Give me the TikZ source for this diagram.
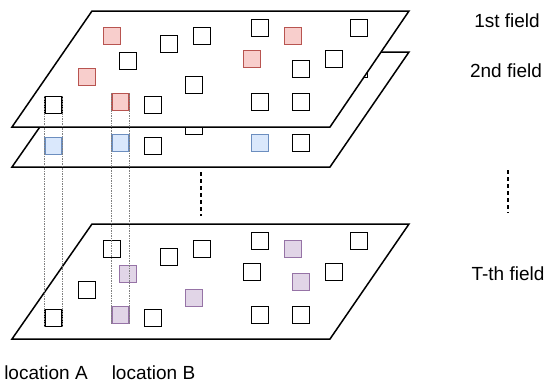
\documentclass[tikz,border=0pt]{standalone}
\usepackage{fontspec}
\setmainfont{Liberation Sans}
\definecolor{redfill}{HTML}{F8CECC}
\definecolor{redline}{HTML}{B85450}
\definecolor{bluefill}{HTML}{DAE8FC}
\definecolor{blueline}{HTML}{6C8EBF}
\definecolor{purpfill}{HTML}{E1D5E7}
\definecolor{purpline}{HTML}{9673A6}
\tikzset{
  sq/.style={draw=black,fill=white,line width=1.5pt,minimum size=17pt,inner sep=0pt,shape=rectangle},
  blk/.style={},
  redsq/.style={draw=redline,fill=redfill},
  bluesq/.style={draw=blueline,fill=bluefill},
  purpsq/.style={draw=purpline,fill=purpfill},
  plane/.style={draw=black,fill=white,line width=1.5pt,line join=miter},
  loc/.style={draw=gray,line width=0.8pt,dash pattern=on 1.5pt off 1pt},
  gap/.style={draw=black,line width=1.5pt,dash pattern=on 4pt off 3pt},
  lbl/.style={font=\fontsize{19}{22}\selectfont,inner sep=0pt,anchor=base}
}
\def\sqlist{1/112/36/redsq/blk/blk, 2/169/44/blk/blk/blk, 3/202/36/blk/blk/blk,
  4/260/28/blk/blk/blk, 5/293/36/redsq/blk/purpsq, 6/359/28/blk/blk/blk,
  7/128/61/blk/blk/purpsq, 8/252/59/redsq/blk/blk, 9/334/59/blk/blk/blk,
  10/301/69/blk/blk/purpsq, 11/87/77/redsq/blk/blk, 12/194/85/blk/blk/purpsq,
  13/53.5/105/blk/bluesq/blk, 14/120.3/102/redsq/bluesq/purpsq, 15/153/105/blk/blk/blk,
  16/260/102/blk/bluesq/blk, 17/301/102/blk/blk/blk}
\begin{document}
\begin{tikzpicture}[x=1pt,y=-1pt]
\useasboundingbox (0,0) rectangle (550,386);
% 2nd field
\path[plane] (92,52) -- (409,52) -- (330,167) -- (12,167) -- cycle;
\foreach \n/\x/\y/\a/\b/\c in \sqlist { \node[sq,\b] (s\n) at (\x,{\y+41}) {}; }
% 1st field
\path[plane] (92,11) -- (409,11) -- (330,127) -- (12,127) -- cycle;
\foreach \n/\x/\y/\a/\b/\c in \sqlist { \node[sq,\a] (t\n) at (\x,\y) {}; }
% T-th field
\path[plane] (92,224) -- (409,224) -- (330,339) -- (12,339) -- cycle;
\foreach \n/\x/\y/\a/\b/\c in \sqlist { \node[sq,\c] (b\n) at (\x,{\y+213}) {}; }
% locations
\draw[loc] (t13.north west) -- (b13.south west);
\draw[loc] (t13.north east) -- (b13.south east);
\draw[loc] (t14.north west) -- (b14.south west);
\draw[loc] (t14.north east) -- (b14.south east);
% gaps
\coordinate (g1) at (201,172); \coordinate (g2) at (201,216);
\coordinate (g3) at (508,170); \coordinate (g4) at (508,213);
\draw[gap] (g1) -- (g2);
\draw[gap] (g3) -- (g4);
% labels
\node[lbl] (l1) at (507,27) {1st field};
\node[lbl] (l2) at (506,77) {2nd field};
\node[lbl] (l3) at (508,280) {T-th field};
\node[lbl] (la) at (46,379) {location A};
\node[lbl] (lb) at (153.5,379) {location B};
\end{tikzpicture}
\end{document}
